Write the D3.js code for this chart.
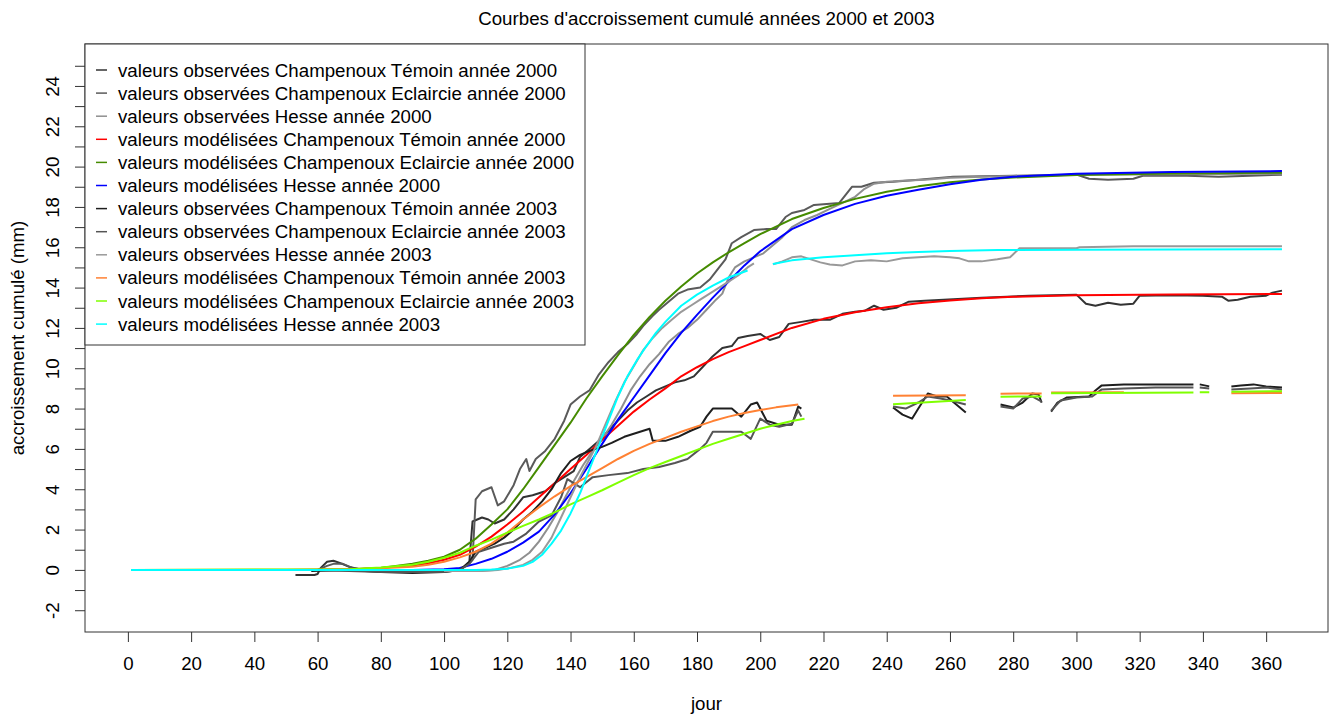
<!DOCTYPE html>
<html>
<head>
<meta charset="utf-8">
<script src="https://cdn.jsdelivr.net/npm/d3@7"></script>
<style>
  body { margin: 0; background: #fff; }
  svg text { font-family: "Liberation Sans", Arial, sans-serif; font-size: 18.7px; fill: #000; }
</style>
</head>
<body>
<svg id="chart" width="1330" height="715"></svg>
<script>
// ---- data (day, cumulated growth in mm); null marks a gap ----
const obsTemoin2000 = [[53,-0.25],[59,-0.25],[60,-0.2],[61,0.1],[63,0.4],[65,0.45],[67,0.35],[70,0.15],[73,0.05],[78,0],[85,-0.05],[95,-0.05],[103,0],[106,0.1],[108,0.4],[109,2.4],[112,2.6],[114,2.5],[116,2.3],[119,2.5],[122,3.0],[125,3.6],[128,3.7],[132,3.9],[135,4.3],[138,4.6],[141,4.9],[143,5.6],[146,6.0],[149,6.4],[152,6.9],[155,7.4],[158,7.9],[161,8.3],[164,8.6],[167,8.9],[170,9.1],[173,9.3],[176,9.4],[179,9.6],[182,10.1],[185,10.6],[188,11.0],[191,11.1],[193,11.5],[196,11.6],[200,11.7],[203,11.4],[206,11.55],[209,12.2],[213,12.3],[217,12.4],[222,12.4],[226,12.7],[230,12.8],[233,12.85],[236,13.1],[239,12.9],[243,13.0],[247,13.3],[252,13.35],[258,13.4],[264,13.45],[270,13.5],[278,13.55],[285,13.6],[300,13.65],[303,13.2],[306,13.1],[310,13.25],[314,13.15],[318,13.2],[320,13.6],[330,13.62],[340,13.6],[346,13.55],[348,13.35],[351,13.4],[355,13.55],[360,13.6],[362,13.75],[365,13.85]];
const obsEclaircie2000 = [[60,0],[63,0.2],[65,0.3],[68,0.3],[71,0.1],[75,0],[85,-0.1],[95,-0.1],[104,0],[107,0.2],[109,0.5],[110,3.5],[112,3.9],[115,4.1],[117,3.2],[119,3.4],[122,4.2],[124,5.0],[126,5.5],[127,4.9],[129,5.5],[132,5.9],[135,6.5],[138,7.4],[140,8.2],[143,8.6],[146,8.9],[149,9.7],[152,10.3],[155,10.8],[158,11.2],[161,11.7],[163,12.1],[166,12.6],[168,12.9],[171,13.3],[174,13.7],[177,13.9],[181,14.0],[184,14.4],[187,15.0],[189,15.4],[191,16.2],[194,16.5],[198,16.85],[202,16.9],[205,16.9],[208,17.5],[210,17.7],[214,17.85],[217,18.1],[221,18.15],[225,18.2],[227,18.6],[229,19.0],[232,19.0],[236,19.2],[242,19.25],[250,19.35],[261,19.5],[280,19.55],[300,19.6],[304,19.4],[310,19.35],[318,19.4],[321,19.55],[335,19.55],[345,19.5],[355,19.55],[365,19.6]];
const obsHesse2000 = [[95,0],[110,-0.05],[116,0],[120,0.2],[124,0.5],[127,0.85],[130,1.4],[133,2.1],[136,2.9],[138,3.5],[141,4.4],[144,5.2],[147,5.9],[150,6.5],[153,7.2],[156,8.0],[159,8.9],[162,9.6],[165,10.2],[168,10.7],[171,11.3],[174,11.7],[177,12.0],[180,12.4],[183,12.9],[186,13.4],[188,13.7],[190,14.5],[192,15.0],[195,15.3],[198,15.5],[201,15.7],[204,16.1],[207,16.5],[210,17.0],[214,17.35],[218,17.6],[222,17.9],[226,18.2],[230,18.5],[233,18.9],[236,19.15],[240,19.25],[245,19.3],[252,19.35],[260,19.45],[270,19.5],[285,19.55],[300,19.6],[330,19.62],[365,19.65]];
const modTemoin2000 = [[1,0],[50,0],[70,0.03],[80,0.1],[90,0.22],[95,0.33],[100,0.5],[105,0.75],[110,1.15],[115,1.65],[120,2.25],[125,2.9],[130,3.6],[135,4.3],[140,5.0],[145,5.7],[150,6.45],[155,7.15],[160,7.85],[165,8.45],[170,9.0],[175,9.6],[180,10.05],[185,10.45],[190,10.8],[195,11.1],[200,11.4],[210,12.0],[220,12.45],[230,12.78],[240,13.03],[250,13.22],[260,13.36],[270,13.47],[280,13.54],[300,13.62],[330,13.66],[365,13.68]];
const modEclaircie2000 = [[1,0],[60,0],[70,0.02],[80,0.1],[90,0.3],[95,0.45],[100,0.65],[105,1.0],[110,1.55],[115,2.25],[120,3.0],[125,4.0],[130,5.1],[135,6.2],[140,7.3],[145,8.5],[150,9.6],[155,10.65],[160,11.65],[165,12.55],[170,13.35],[175,14.05],[180,14.7],[185,15.25],[190,15.75],[195,16.2],[200,16.65],[210,17.4],[220,17.95],[230,18.4],[240,18.75],[250,19.02],[260,19.22],[270,19.36],[280,19.46],[300,19.58],[330,19.66],[365,19.7]];
const modHesse2000 = [[1,0],[90,0],[100,0.03],[105,0.1],[110,0.3],[115,0.55],[120,0.9],[125,1.35],[130,1.9],[135,2.75],[140,3.8],[145,5.0],[150,6.25],[155,7.45],[160,8.55],[165,9.65],[170,10.75],[175,11.75],[180,12.65],[185,13.5],[190,14.3],[195,15.1],[200,15.8],[210,16.9],[220,17.6],[230,18.15],[240,18.55],[250,18.85],[260,19.12],[270,19.35],[280,19.5],[300,19.65],[330,19.73],[365,19.78]];
const obsTemoin2003 = [[58,-0.05],[70,0],[80,-0.1],[90,-0.15],[100,-0.1],[105,0],[108,0.4],[110,0.9],[113,1.1],[116,1.3],[119,1.6],[122,2.0],[125,2.5],[128,2.9],[131,3.4],[134,4.0],[137,4.8],[140,5.4],[143,5.7],[146,5.9],[150,6.1],[153,6.3],[157,6.6],[161,6.8],[165,7.0],[166,6.4],[170,6.4],[174,6.6],[178,6.9],[181,7.1],[183,7.6],[185,8.0],[191,8.0],[194,7.6],[197,8.2],[199,8.3],[202,7.4],[206,7.2],[210,7.2],[212,8.1],[213,8.0],[213.5,null],[242,8.05],[245,7.7],[248,7.5],[250,8.0],[253,8.75],[256,8.6],[259,8.6],[262,8.2],[265,7.8],[265.5,null],[276,8.2],[280,8.05],[283,8.3],[286,8.75],[288,8.7],[289,8.3],[289.5,null],[292,7.85],[294,8.3],[297,8.55],[304,8.6],[306,8.9],[308,9.15],[315,9.2],[325,9.2],[337,9.2],[337.5,null],[339,9.2],[342,9.1],[342.5,null],[349,9.1],[352,9.15],[356,9.2],[360,9.1],[365,9.05]];
const obsEclaircie2003 = [[58,0],[70,-0.05],[80,-0.1],[90,-0.1],[100,-0.1],[105,0],[108,0.3],[111,0.9],[115,1.1],[119,1.3],[122,1.4],[126,1.8],[130,2.4],[134,2.7],[137,3.6],[139,4.5],[141,4.3],[143,4.1],[147,4.6],[152,4.7],[158,4.8],[163,5.0],[168,5.1],[173,5.3],[177,5.5],[181,6.0],[183,6.3],[185,6.85],[190,6.85],[194,6.85],[197,6.5],[200,7.5],[203,7.2],[206,7.1],[210,7.25],[212,7.9],[213,7.6],[213.5,null],[242,8.1],[246,8.0],[250,8.3],[253,8.6],[257,8.5],[260,8.4],[265,8.2],[265.5,null],[276,8.1],[280,8.0],[283,8.5],[286,8.6],[289,8.35],[289.5,null],[292,7.9],[295,8.4],[300,8.55],[305,8.6],[308,8.95],[315,9.0],[325,9.05],[337,9.05],[337.5,null],[339,9.05],[342,9.0],[342.5,null],[349,8.95],[355,9.0],[360,9.05],[365,8.95]];
const obsHesse2003 = [[100,-0.05],[112,-0.05],[117,0],[121,0.1],[125,0.25],[128,0.5],[131,0.9],[134,1.6],[137,2.6],[140,3.6],[143,4.6],[146,5.5],[148,6.1],[151,7.2],[154,8.3],[157,9.3],[160,10.1],[163,10.9],[166,11.5],[169,12.0],[172,12.4],[175,12.8],[178,13.1],[181,13.4],[184,13.7],[187,14.0],[190,14.3],[193,14.6],[196,15.0],[198,15.2],[198.5,null],[204,15.15],[207,15.3],[210,15.5],[213,15.55],[216,15.4],[219,15.25],[222,15.15],[226,15.1],[230,15.3],[235,15.35],[240,15.3],[245,15.45],[250,15.5],[255,15.55],[260,15.5],[263,15.45],[266,15.3],[270,15.3],[275,15.4],[279,15.5],[282,15.95],[300,15.95],[301,16.0],[318,16.05],[365,16.05]];
const modTemoin2003 = [[1,0],[70,0.02],[80,0.08],[90,0.15],[95,0.25],[100,0.4],[105,0.62],[110,0.9],[115,1.3],[120,1.85],[125,2.5],[130,3.1],[135,3.65],[140,4.15],[145,4.6],[150,5.05],[155,5.5],[160,5.9],[165,6.25],[170,6.55],[175,6.85],[180,7.12],[185,7.38],[190,7.6],[195,7.78],[200,7.93],[205,8.06],[212,8.2],[212.5,null],[242,8.64],[265,8.66],[265.5,null],[276,8.74],[289,8.75],[289.5,null],[292,8.8],[315,8.81],[315.5,null],[349,8.76],[365,8.77]];
const modEclaircie2003 = [[1,0],[70,0.03],[80,0.12],[90,0.25],[95,0.4],[100,0.6],[105,0.85],[110,1.2],[115,1.5],[120,1.85],[125,2.18],[130,2.5],[135,2.85],[140,3.25],[145,3.6],[150,3.95],[155,4.33],[160,4.7],[165,5.05],[170,5.35],[175,5.65],[180,5.95],[185,6.25],[190,6.5],[195,6.75],[200,7.0],[205,7.2],[210,7.38],[214,7.5],[214.5,null],[242,8.21],[265,8.43],[265.5,null],[276,8.59],[289,8.6],[289.5,null],[292,8.76],[337,8.8],[337.5,null],[339,8.81],[342,8.81],[342.5,null],[349,8.84],[365,8.86]];
const modHesse2003 = [[1,0],[110,0],[115,0.02],[120,0.06],[125,0.2],[128,0.4],[131,0.75],[134,1.3],[137,1.95],[140,2.8],[143,3.8],[146,5.0],[149,6.2],[152,7.4],[155,8.6],[158,9.6],[161,10.4],[164,11.1],[167,11.75],[170,12.3],[175,13.1],[180,13.65],[185,14.1],[190,14.5],[196,14.85],[196.5,null],[204,15.17],[210,15.35],[220,15.5],[230,15.6],[240,15.7],[250,15.77],[260,15.82],[275,15.86],[300,15.88],[330,15.89],[365,15.9]];

const seriesLabels = [
  "valeurs observées Champenoux Témoin année 2000",
  "valeurs observées Champenoux Eclaircie année 2000",
  "valeurs observées Hesse année 2000",
  "valeurs modélisées Champenoux Témoin année 2000",
  "valeurs modélisées Champenoux Eclaircie année 2000",
  "valeurs modélisées Hesse année 2000",
  "valeurs observées Champenoux Témoin année 2003",
  "valeurs observées Champenoux Eclaircie année 2003",
  "valeurs observées Hesse année 2003",
  "valeurs modélisées Champenoux Témoin année 2003",
  "valeurs modélisées Champenoux Eclaircie année 2003",
  "valeurs modélisées Hesse année 2003"
];
const seriesColors = ["#333333", "#5a5a5a", "#8f8f8f", "#ff0000", "#458b00", "#0000ff",
                      "#1e1e1e", "#555555", "#999999", "#ff8133", "#7fff00", "#00ffff"];
const seriesData = [obsTemoin2000, obsEclaircie2000, obsHesse2000, modTemoin2000, modEclaircie2000, modHesse2000,
                    obsTemoin2003, obsEclaircie2003, obsHesse2003, modTemoin2003, modEclaircie2003, modHesse2003];

const xTicks = d3.range(0, 361, 20);
const yTicks = d3.range(-2, 26, 1);

const chartTitle = "Courbes d'accroissement cumulé années 2000 et 2003";
const xTitle = "jour";
const yTitle = "accroissement cumulé (mm)";

// ---- layout (R base graphics look) ----
const plot = { left: 85, right: 1328, top: 44, bottom: 632 };

const svg = d3.select("#chart");

const x = d3.scaleLinear().domain([-13.56, 379.56]).range([plot.left, plot.right]);
const y = d3.scaleLinear().domain([-3.08, 26.08]).range([plot.bottom, plot.top]);

svg.append("defs").append("clipPath").attr("id", "clip")
  .append("rect")
  .attr("x", plot.left).attr("y", plot.top)
  .attr("width", plot.right - plot.left).attr("height", plot.bottom - plot.top);

// lines, drawn in legend order
const line = d3.line()
  .defined(d => d[1] !== null)
  .x(d => x(d[0]))
  .y(d => y(d[1]));

const lines = svg.append("g").attr("clip-path", "url(#clip)");
seriesData.forEach((s, i) => {
  lines.append("path")
    .attr("d", line(s))
    .attr("fill", "none")
    .attr("stroke", seriesColors[i])
    .attr("stroke-width", 2)
    .attr("stroke-linejoin", "round");
});

// x axis
const xAxis = svg.append("g").attr("transform", `translate(0,${plot.bottom})`)
  .call(d3.axisBottom(x).tickValues(xTicks).tickSize(10).tickPadding(15).tickSizeOuter(0));
xAxis.select(".domain").remove();
xAxis.selectAll(".tick line").attr("stroke", "#333");
xAxis.selectAll(".tick text").attr("font-size", null).attr("font-family", null).attr("fill", "#000");

// y axis, labels on every other tick, rotated like R
const yAxis = svg.append("g").attr("transform", `translate(${plot.left},0)`)
  .call(d3.axisLeft(y).tickValues(yTicks).tickSize(10).tickFormat(d => d % 2 === 0 ? d : "").tickSizeOuter(0));
yAxis.select(".domain").remove();
yAxis.selectAll(".tick line").attr("stroke", "#333");
yAxis.selectAll(".tick text")
  .attr("font-size", null).attr("font-family", null).attr("fill", "#000")
  .attr("x", 0).attr("dy", null)
  .attr("text-anchor", "middle")
  .attr("transform", "translate(-26,0) rotate(-90)");

// plot frame
svg.append("rect")
  .attr("x", plot.left).attr("y", plot.top)
  .attr("width", plot.right - plot.left).attr("height", plot.bottom - plot.top)
  .attr("fill", "none").attr("stroke", "#333").attr("stroke-width", 1);

// titles
svg.append("text").attr("x", (plot.left + plot.right) / 2).attr("y", 25)
  .attr("text-anchor", "middle").text(chartTitle);
svg.append("text").attr("x", (plot.left + plot.right) / 2).attr("y", 710)
  .attr("text-anchor", "middle").text(xTitle);
svg.append("text")
  .attr("transform", `translate(24,${(plot.top + plot.bottom) / 2}) rotate(-90)`)
  .attr("text-anchor", "middle").text(yTitle);

// legend
const legend = svg.append("g");
legend.append("rect")
  .attr("x", plot.left).attr("y", plot.top)
  .attr("width", 500).attr("height", 301)
  .attr("fill", "#fff").attr("stroke", "#333").attr("stroke-width", 1);
seriesLabels.forEach((lab, i) => {
  const cy = 70 + i * 23.1;
  legend.append("line")
    .attr("x1", 96).attr("x2", 107).attr("y1", cy).attr("y2", cy)
    .attr("stroke", seriesColors[i]).attr("stroke-width", 1.5);
  legend.append("text")
    .attr("x", 118).attr("y", cy).attr("dy", "0.35em")
    .text(lab);
});
</script>
</body>
</html>
